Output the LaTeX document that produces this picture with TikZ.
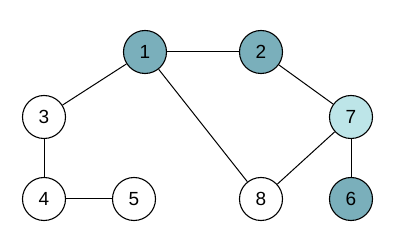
\documentclass[tikz,border=0pt]{standalone}
\usepackage{fontspec}
\setsansfont{Liberation Sans}
\usetikzlibrary{positioning}

\definecolor{darkteal}{HTML}{7AAFBB}
\definecolor{lightteal}{HTML}{BDE5E8}

\begin{document}
\begin{tikzpicture}[
    x=1pt, y=-1pt,
    vertex/.style={circle, draw, line width=1.1pt, minimum size=43pt, inner sep=0pt,
                   font=\sffamily\fontsize{19}{21}\selectfont}, % Style for the graph vertices
    dark/.style={vertex, fill=darkteal}, % Style for dark filled vertices
    light/.style={vertex, fill=lightteal}, % Style for light filled vertices
    edge/.style={line width=1pt} % Style for the edges
]

    % Fix the picture size
    \useasboundingbox (0,0) rectangle (400,246);

    % Vertices
    \node[dark]   (n1) at (145,52)  {1};
    \node[dark]   (n2) at (261,52)  {2};
    \node[vertex] (n3) at (44,117)  {3};
    \node[vertex] (n4) at (44,199)  {4};
    \node[vertex] (n5) at (134,199) {5};
    \node[light]  (n7) at (351,117) {7};
    \node[vertex] (n8) at (261,199) {8};
    \node[dark]   (n6) at (351,199) {6};

    % Edges
    \foreach \a/\b in {n1/n2, n1/n3, n1/n8, n2/n7, n7/n8, n7/n6, n3/n4, n4/n5} {
        \draw[edge] (\a) -- (\b);
    }

\end{tikzpicture}
\end{document}
